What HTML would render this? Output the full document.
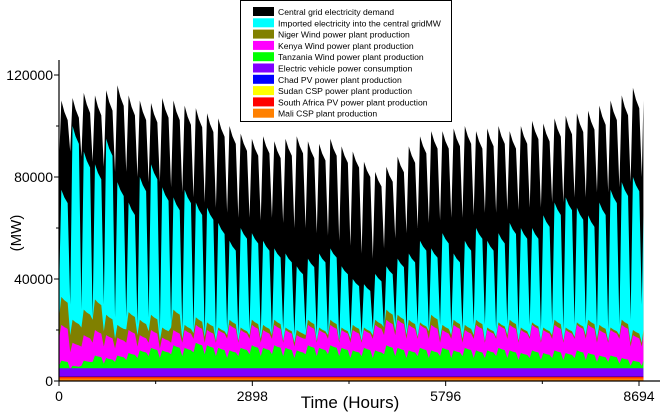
<!DOCTYPE html>
<html><head><meta charset="utf-8"><style>
body{margin:0;background:#fff;}
svg{display:block;font-family:"Liberation Sans",sans-serif;}
</style></head><body>
<svg id="chart" width="660" height="412">
<g id="areas"></g>
<g id="axes"></g>
<g id="legend"></g>
</svg>
<script>
const weekCount = 53;
const demandPeak = [110,111,113,112,114,116,112,110,109,111,110,108,107,105,103,100,97,95,96,94,95,96,94,93,95,92,90,86,82,84,88,92,96,98,98,99,100,98,99,100,98,100,102,101,103,104,105,106,108,110,112,115,110];
const demandLow = [85,90,88,86,84,82,82,80,78,78,76,74,72,70,68,66,64,64,63,64,62,60,60,58,57,55,53,50,48,52,56,58,60,62,63,64,64,65,66,66,67,67,68,68,70,70,72,72,74,74,76,78,80];
const importPeak = [75,100,90,85,95,78,70,80,85,76,72,75,70,68,62,55,60,58,55,52,50,45,48,50,52,45,40,38,42,45,48,50,55,52,58,50,55,60,55,58,62,60,60,65,70,72,68,65,70,75,78,80,65];
const importLow = [35,30,28,25,30,25,25,22,25,20,22,20,20,18,18,20,18,20,18,18,20,18,20,18,18,16,18,18,20,20,22,20,22,20,22,20,20,22,22,20,22,20,22,20,22,20,22,22,20,20,22,24,30];
const nigerTop = [33,24,28,32,26,22,27,24,26,21,28,22,25,23,21,24,21,24,22,24,21,20,24,21,24,21,22,21,24,28,26,24,23,26,22,24,22,24,21,23,24,21,23,21,24,21,23,24,22,21,24,20,20];
const kenyaTop = [22,15,18,20,18,17,20,18,20,17,20,20,22,20,20,22,20,22,20,22,20,18,22,20,22,20,20,20,22,24,24,22,22,22,20,22,20,22,20,22,22,20,22,20,22,20,22,22,20,20,22,18,18];
const tanzaniaTop = [8,6,8,10,9,10,11,12,13,12,14,13,15,14,13,12,13,14,13,14,13,12,14,13,14,13,12,13,12,14,13,12,13,12,13,12,13,12,12,13,12,11,12,11,12,11,12,11,10,10,9,8,8];
const evTop = 5.0, chadTop = 1.9, sudanTop = 1.7, southAfricaTop = 1.5, maliTop = 1.0;
const xTicks = [0,2898,5796,8694];
const yTicks = [0,40000,80000,120000];
const legendLabels = ["Central grid electricity demand","Imported electricity into the central gridMW","Niger Wind power plant production","Kenya Wind power plant production","Tanzania Wind power plant production","Electric vehicle power consumption","Chad PV power plant production","Sudan CSP power plant production","South Africa PV power plant production","Mali CSP plant production"];
const legendColors = ["#000000","#00ffff","#808000","#ff00ff","#00ff00","#8000ff","#0000ff","#ffff00","#ff0000","#ff8000"];

const NS="http://www.w3.org/2000/svg";
const X0=59, X1=639, Y0=381, Y1=75, HMAX=8760;
const xs = h => X0 + Math.min(h,HMAX)*(X1-X0)/8694;
const ys = v => Y0 - v*(Y0-Y1)/120000;
function mk(tag,attrs,parent){const e=document.createElementNS(NS,tag);for(const k in attrs)e.setAttribute(k,attrs[k]);parent.appendChild(e);return e;}
const areas=document.getElementById('areas');
function areaPath(peak,low,color,name){
  let d=`M${xs(0)},${ys(0)}`;
  for(let i=0;i<weekCount;i++){
    const h=i*168;
    const lo = low? low[i]: peak[i]*0.75;
    d+=`L${xs(h)},${ys(lo*1000)}L${xs(h+35)},${ys(peak[i]*1000)}L${xs(h+80)},${ys(peak[i]*960)}L${xs(h+130)},${ys(peak[i]*930)}`;
  }
  d+=`L${xs(HMAX)},${ys((low?low[weekCount-1]:peak[weekCount-1])*1000)}L${xs(HMAX)},${ys(0)}Z`;
  const p=mk('path',{d:d,fill:color},areas);
  
  
}
function flat(v,color,name){
  const r=mk('rect',{x:xs(0),y:ys(v*1000),width:xs(HMAX)-xs(0),height:ys(0)-ys(v*1000),fill:color},areas);
  
  
}
areaPath(demandPeak,demandLow,'#000','demand-area');
areaPath(importPeak,importLow,'#00ffff','imported-area');
areaPath(nigerTop,null,'#808000','niger-wind-area');
areaPath(kenyaTop,null,'#ff00ff','kenya-wind-area');
areaPath(tanzaniaTop,null,'#00ff00','tanzania-wind-area');
flat(evTop,'#8000ff','ev-area');
flat(chadTop,'#0000ff','chad-pv-area');
flat(sudanTop,'#ff0000','sudan-area');
flat(southAfricaTop,'#ff3000','south-africa-area');
flat(maliTop,'#ff8000','mali-area');

const axes=document.getElementById('axes');
let e;
e=mk('line',{x1:X0,y1:Y0,x2:660,y2:Y0,stroke:'#000','stroke-width':1.2},axes);

e=mk('line',{x1:X0,y1:Y0,x2:X0,y2:60,stroke:'#000','stroke-width':1.2},axes);

xTicks.forEach((t,i)=>{
  mk('line',{x1:xs(t),y1:Y0,x2:xs(t),y2:Y0+5,stroke:'#000'},axes);
  if(i<xTicks.length-1)mk('line',{x1:xs(t+1449),y1:Y0,x2:xs(t+1449),y2:Y0+3,stroke:'#000'},axes);
  const tx=mk('text',{x:xs(t),y:Y0+20,'font-size':14,'text-anchor':'middle'},axes);
  tx.textContent=t;
  
  
});
yTicks.forEach((t,i)=>{
  mk('line',{x1:X0,y1:ys(t),x2:X0-5,y2:ys(t),stroke:'#000'},axes);
  if(i<yTicks.length-1)mk('line',{x1:X0,y1:ys(t+20000),x2:X0-3,y2:ys(t+20000),stroke:'#000'},axes);
  const tx=mk('text',{x:X0-6,y:ys(t)+5,'font-size':14,'text-anchor':'end'},axes);
  tx.textContent=t;
  
  
});
e=mk('text',{x:350,y:408,'font-size':17,'text-anchor':'middle'},axes);e.textContent='Time (Hours)';

e=mk('text',{x:0,y:0,'font-size':15,'text-anchor':'middle',transform:'translate(21,233) rotate(-90)'},axes);e.textContent='(MW)';


const lg=document.getElementById('legend');
e=mk('rect',{x:240.5,y:0.5,width:211,height:121,fill:'#fff',stroke:'#000'},lg);

legendLabels.forEach((l,i)=>{
  const y=7+i*11.3;
  const g=mk('g',{},lg);
  
  
  mk('rect',{x:253,y:y,width:21,height:9,fill:legendColors[i]},g);
  const t=mk('text',{x:278,y:y+8,'font-size':8.6},g);t.textContent=l;
});
</script>
</body></html>
